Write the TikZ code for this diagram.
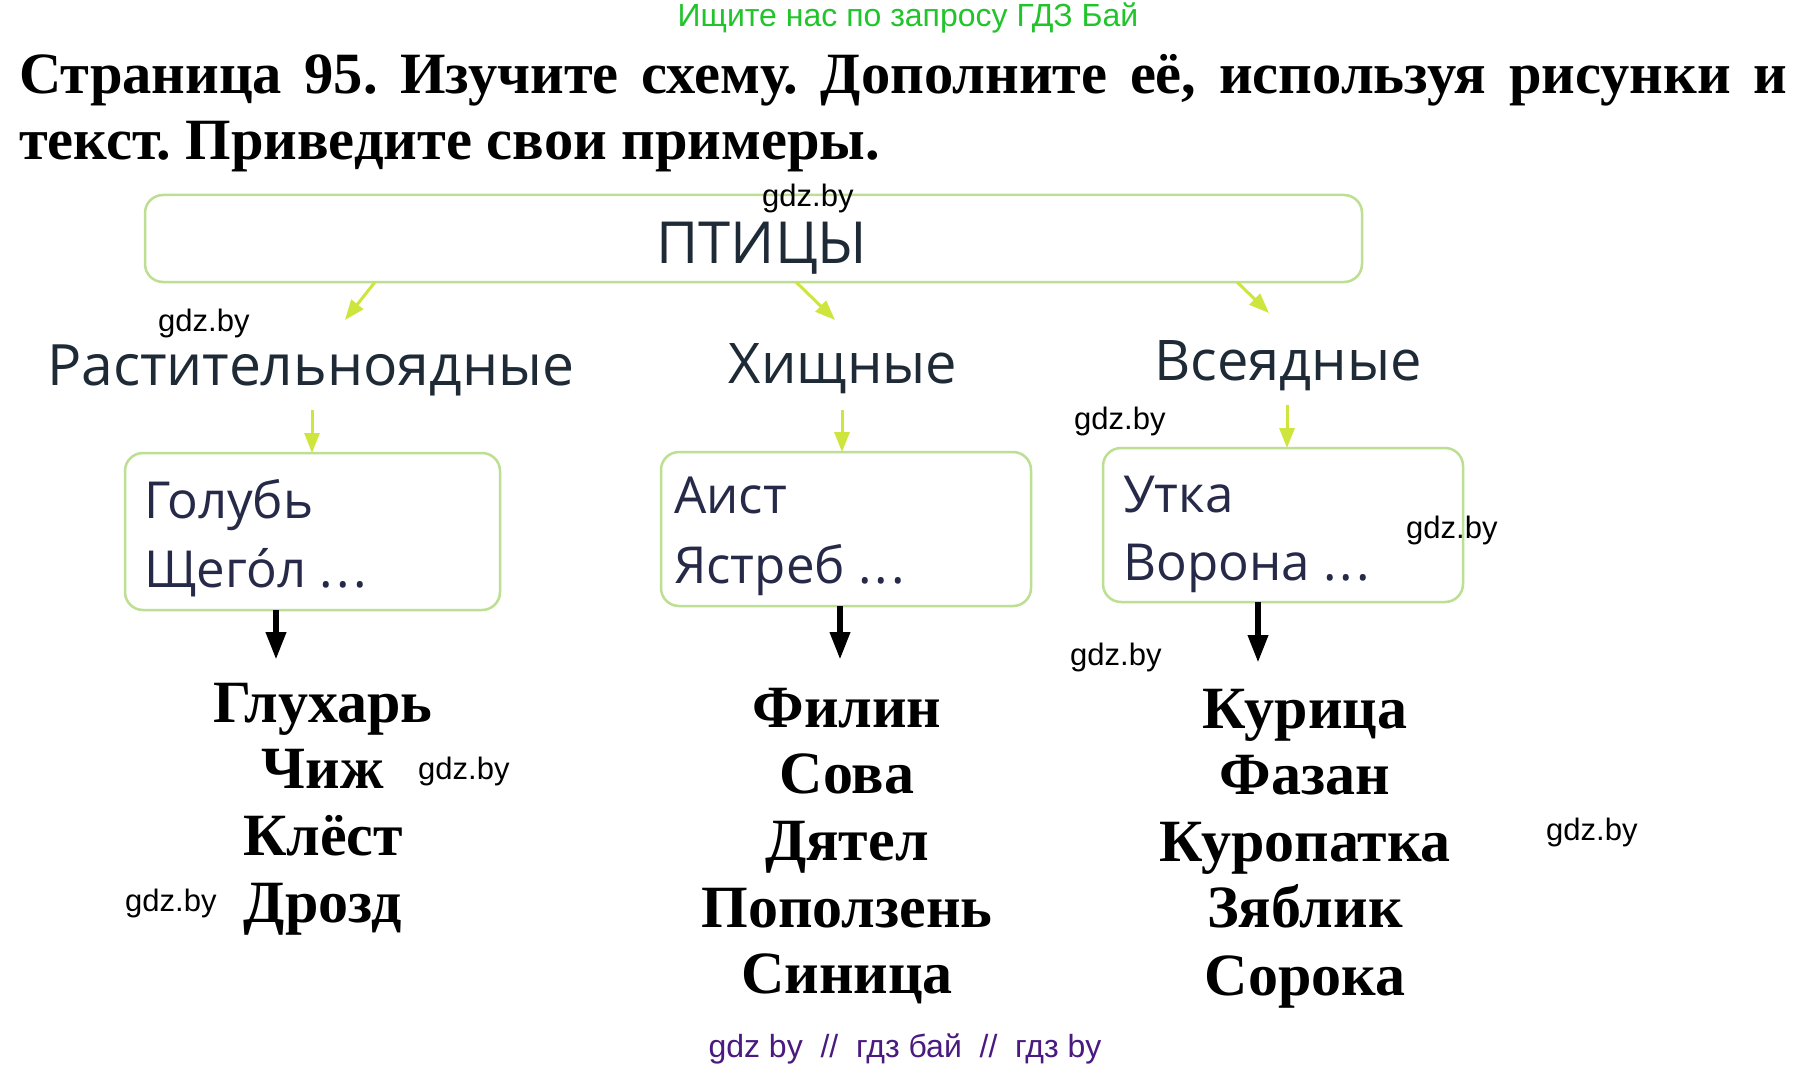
\documentclass[tikz,border=0pt]{standalone}
\usepackage{fontspec}
\setmainfont{Liberation Serif}
\newfontfamily\osans{Open Sans}
\newfontfamily\lsans{Liberation Sans}
\usetikzlibrary{arrows.meta}
\frenchspacing
\definecolor{gtop}{HTML}{22C42C}
\definecolor{wmpurple}{HTML}{4A1A80}
\definecolor{labc}{HTML}{1E2A36}
\definecolor{boxtxt}{HTML}{262A48}
\definecolor{boxln}{HTML}{BCDF92}
\definecolor{garr}{HTML}{CDE53C}
\begin{document}
\begin{tikzpicture}[x=1pt,y=-1pt,
  wm/.style={font=\lsans\fontsize{31}{31}\selectfont, inner sep=0pt, anchor=west},
  ttl/.style={font=\bfseries\fontsize{58.5}{66}\selectfont, inner sep=0pt, anchor=base west},
  cat/.style={font=\osans\fontsize{56}{60}\selectfont, text=labc, inner sep=0pt, anchor=base},
  boxt/.style={font=\osans\fontsize{51}{60}\selectfont, text=boxtxt, inner sep=0pt, anchor=base west},
  frame/.style={draw=boxln, line width=2.5pt, rounded corners=18pt, inner sep=0pt, outer sep=0pt},
  lst/.style={font=\bfseries\fontsize{60}{60}\selectfont, inner sep=0pt, anchor=base},
  garrow/.style={draw=garr, line width=3pt, -{Triangle[length=20pt,width=15pt]}},
  barrow/.style={draw=black, line width=6.5pt, -{Triangle[length=28pt,width=19pt]}}]
\useasboundingbox[fill=white] (0,0) rectangle (1811,1067);

% header
\node[font=\lsans\fontsize{32}{32}\selectfont, text=gtop, inner sep=0pt, anchor=base] (ad) at (908,27) {Ищите нас по запросу ГДЗ Бай};
\node[ttl] (t1) at (19,94) {\makebox[1768pt][s]{Страница 95. Изучите схему. Дополните её, используя рисунки и}};
\node[ttl] (t2) at (19,160) {текст. Приведите свои примеры.};

% top box
\node[frame, minimum width=1217pt, minimum height=87pt] (top) at (753.5,238.5) {};
\node[font=\osans\fontsize{58}{60}\selectfont, text=labc, inner sep=0pt, anchor=base] (ptitsy) at (762,263) {ПТИЦЫ};

% categories
\node[cat, font=\osans\fontsize{57}{60}\selectfont] (c1) at (310.5,385) {Растительноядные};
\node[cat] (c2) at (843,383) {Хищные};
\node[cat] (c3) at (1288,380) {Всеядные};

\coordinate (g1) at (345,320);
\coordinate (g2) at (835,320);
\coordinate (g3) at (1269,313);
\draw[garrow] ([xshift=-378.5pt]top.south) -- (g1);
\draw[garrow] ([xshift=42.5pt]top.south) -- (g2);
\draw[garrow] ([xshift=483.5pt]top.south) -- (g3);

% boxes
\node[frame, minimum width=375pt, minimum height=157pt] (b1) at (312.5,531.5) {};
\node[frame, minimum width=370pt, minimum height=154pt] (b2) at (846,529) {};
\node[frame, minimum width=360pt, minimum height=154pt] (b3) at (1283,525) {};

\coordinate (s1) at (312,410);
\coordinate (s2) at (842,410);
\coordinate (s3) at (1287,405);
\draw[garrow] (s1) -- (s1 |- b1.north);
\draw[garrow] (s2) -- (s2 |- b2.north);
\draw[garrow] (s3) -- (s3 |- b3.north);

\node[boxt] (b1a) at (144,518) {Голубь};
\node[boxt] (b1b) at (144,587) {Щего́л .\kern3pt.\kern3pt.};
\node[boxt] (b2a) at (674,513) {Аист};
\node[boxt] (b2b) at (674,583) {Ястреб .\kern3pt.\kern3pt.};
\node[boxt] (b3a) at (1123,512) {Утка};
\node[boxt] (b3b) at (1123,580) {Ворона .\kern3pt.\kern3pt.};

% black arrows
\coordinate (k1) at (276,660);
\coordinate (k2) at (840,660);
\coordinate (k3) at (1258,663);
\draw[barrow] (b1.south -| k1) -- (k1);
\draw[barrow] (b2.south -| k2) -- (k2);
\draw[barrow] (b3.south -| k3) -- (k3);

% lists
\node[lst] (l1) at (323,722) {Глухарь};
\node[lst] (l2) at (323,788) {Чиж};
\node[lst] (l3) at (323,855) {Клёст};
\node[lst] (l4) at (323,922) {Дрозд};

\node[lst] (m1) at (847,727) {Филин};
\node[lst] (m2) at (847,793) {Сова};
\node[lst] (m3) at (847,860) {Дятел};
\node[lst] (m4) at (847,927) {Поползень};
\node[lst] (m5) at (847,993) {Синица};

\node[lst] (r1) at (1305,728) {Курица};
\node[lst] (r2) at (1305,794) {Фазан};
\node[lst] (r3) at (1305,861) {Куропатка};
\node[lst] (r4) at (1305,927) {Зяблик};
\node[lst] (r5) at (1305,995) {Сорока};

% watermarks
\node[wm] (w1) at (762,198) {gdz.by};
\node[wm] (w2) at (158,323) {gdz.by};
\node[wm] (w3) at (1074,421) {gdz.by};
\node[wm] (w4) at (1406,530) {gdz.by};
\node[wm] (w5) at (1070,657) {gdz.by};
\node[wm] (w6) at (418,771) {gdz.by};
\node[wm] (w7) at (125,903) {gdz.by};
\node[wm] (w8) at (1546,832) {gdz.by};

\node[font=\lsans\fontsize{32}{32}\selectfont, text=wmpurple, inner sep=0pt, anchor=base] (foot) at (905,1057) {gdz by\ \ //\ \ гдз бай\ \ //\ \ гдз by};
\end{tikzpicture}
\end{document}
